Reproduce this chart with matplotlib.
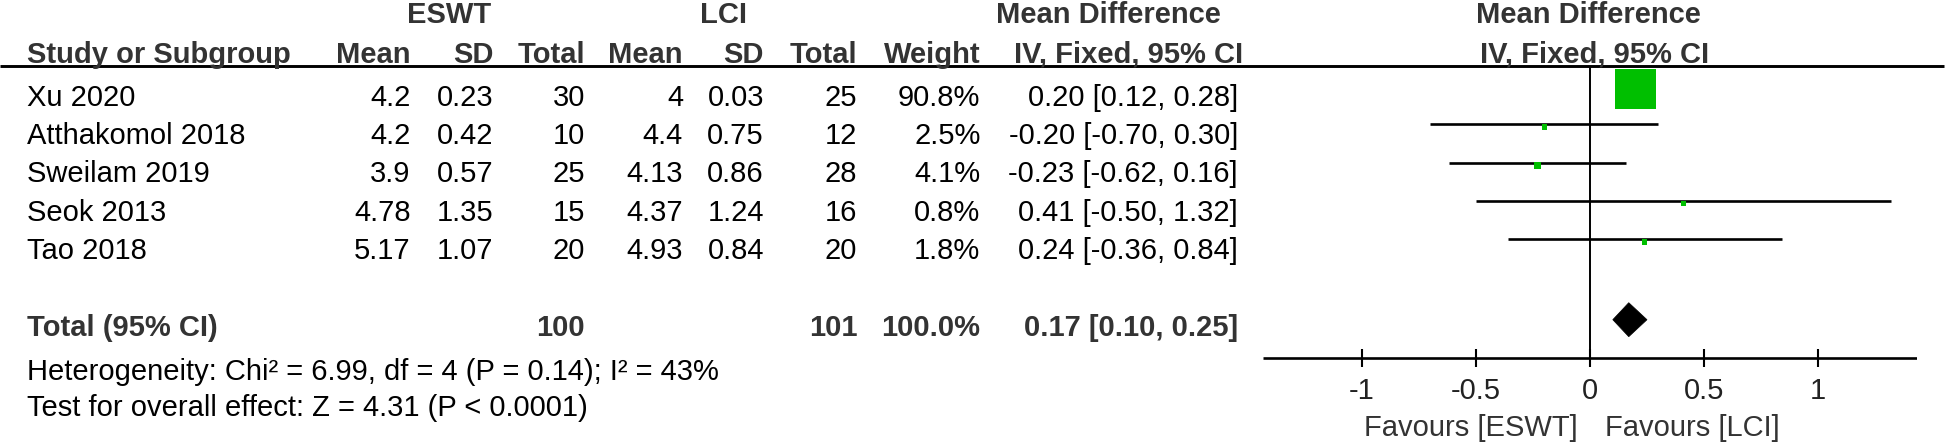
import matplotlib
matplotlib.use("Agg")
import matplotlib.pyplot as plt
from matplotlib.patches import Rectangle, Polygon

# ---------------- data ----------------
studies = ["Xu 2020", "Atthakomol 2018", "Sweilam 2019", "Seok 2013", "Tao 2018"]
eswt_mean = [4.2, 4.2, 3.9, 4.78, 5.17]
eswt_sd = [0.23, 0.42, 0.57, 1.35, 1.07]
eswt_n = [30, 10, 25, 15, 20]
lci_mean = [4, 4.4, 4.13, 4.37, 4.93]
lci_sd = [0.03, 0.75, 0.86, 1.24, 0.84]
lci_n = [25, 12, 28, 16, 20]
weights = [90.8, 2.5, 4.1, 0.8, 1.8]
md = [0.20, -0.20, -0.23, 0.41, 0.24]
ci_lo = [0.12, -0.70, -0.62, -0.50, -0.36]
ci_hi = [0.28, 0.30, 0.16, 1.32, 0.84]

total_eswt_n = 100
total_lci_n = 101
total_weight = 100.0
total_md = 0.17
total_lo = 0.10
total_hi = 0.25

heterogeneity = "Heterogeneity: Chi² = 6.99, df = 4 (P = 0.14); I² = 43%"
overall = "Test for overall effect: Z = 4.31 (P < 0.0001)"
xticks = [-1, -0.5, 0, 0.5, 1]
xtick_labels = ["-1", "-0.5", "0", "0.5", "1"]
favours_left = "Favours [ESWT]"
favours_right = "Favours [LCI]"

# ---------------- layout ----------------
W, H = 1946, 443
FONT = "Liberation Sans"
FS = 21
DARK = "#333333"
GREEN = "#00BF00"

fig = plt.figure(figsize=(W / 100, H / 100), dpi=100)
fig.patch.set_facecolor("white")
ax = fig.add_axes([0, 0, 1, 1])
ax.set_xlim(0, W)
ax.set_ylim(H, 0)
ax.axis("off")

def txt(x, y, s, ha="right", bold=False, color="black", size=FS):
    ax.text(x, y, s, ha=ha, va="baseline", fontsize=size, family=FONT,
            fontweight="bold" if bold else "normal", color=color)

# column right edges (pixels)
col_em, col_esd, col_en = 410.7, 493.3, 584.8
col_lm, col_lsd, col_ln = 683, 764, 857.3
col_w, col_ci = 980.4, 1238

# headers
txt(448.7, 23, "ESWT", ha="center", bold=True, color=DARK)
txt(724, 23, "LCI", ha="center", bold=True, color=DARK)
txt(1108, 23, "Mean Difference", ha="center", bold=True, color=DARK)
txt(1588.5, 23, "Mean Difference", ha="center", bold=True, color=DARK)

hy = 62.5
txt(27, hy, "Study or Subgroup", ha="left", bold=True, color=DARK)
for x, s in [(col_em, "Mean"), (col_esd, "SD"), (col_en, "Total"),
             (col_lm, "Mean"), (col_lsd, "SD"), (col_ln, "Total"),
             (col_w, "Weight")]:
    txt(x, hy, s, bold=True, color=DARK)
txt(1129, hy, "IV, Fixed, 95% CI", ha="center", bold=True, color=DARK)
txt(1595, hy, "IV, Fixed, 95% CI", ha="center", bold=True, color=DARK)

ax.plot([0, 1944], [65.5, 65.5], color="black", lw=2.1, solid_capstyle="butt")

def g(v):
    return f"{v:g}"

row0, dy = 106, 38.25
baselines = [row0 + i * dy for i in range(len(studies))]
for i, s in enumerate(studies):
    y = baselines[i]
    txt(27, y, s, ha="left")
    txt(col_em, y, g(eswt_mean[i]))
    txt(col_esd, y, g(eswt_sd[i]))
    txt(col_en, y, str(eswt_n[i]))
    txt(col_lm, y, g(lci_mean[i]))
    txt(col_lsd, y, g(lci_sd[i]))
    txt(col_ln, y, str(lci_n[i]))
    txt(col_w, y, f"{weights[i]:.1f}%")
    txt(col_ci, y, f"{md[i]:.2f} [{ci_lo[i]:.2f}, {ci_hi[i]:.2f}]")

ty = 336.5
txt(27, ty, "Total (95% CI)", ha="left", bold=True, color=DARK)
txt(col_en, ty, str(total_eswt_n), bold=True, color=DARK)
txt(col_ln, ty, str(total_lci_n), bold=True, color=DARK)
txt(col_w, ty, f"{total_weight:.1f}%", bold=True, color=DARK)
txt(col_ci, ty, f"{total_md:.2f} [{total_lo:.2f}, {total_hi:.2f}]", bold=True, color=DARK)

txt(27, 379.5, heterogeneity, ha="left")
txt(27, 416.5, overall, ha="left")

# ---------------- forest panel ----------------
x0px, x1px = 1263.3, 1916.7
xlim = 1.433
fa = fig.add_axes([x0px / W, 0, (x1px - x0px) / W, 1])
fa.set_xlim(-xlim, xlim)
fa.set_ylim(H, 0)
fa.axis("off")
fa.patch.set_alpha(0)
ppu = (x1px - x0px) / (2 * xlim)  # pixels per unit

axis_y = 358.3
fa.plot([-xlim, xlim], [axis_y, axis_y], color="black", lw=1.9, solid_capstyle="butt")
fa.plot([0, 0], [66, axis_y], color="black", lw=1.4, solid_capstyle="butt")
for t, lab in zip(xticks, xtick_labels):
    fa.plot([t, t], [349.3, 367.3], color="black", lw=1.5, solid_capstyle="butt")
    fa.text(t, 399.3, lab, ha="center", va="baseline", fontsize=FS, family=FONT, color="#222222")

fa.text(-12 / ppu, 436.5, favours_left, ha="right", va="baseline", fontsize=FS,
        family=FONT, color=DARK)
fa.text(15 / ppu, 436.5, favours_right, ha="left", va="baseline", fontsize=FS,
        family=FONT, color=DARK)

for i in range(len(studies)):
    ly = baselines[i] - 20
    fa.plot([ci_lo[i], ci_hi[i]], [ly, ly], color="black", lw=1.9, solid_capstyle="butt", zorder=2)
    side = 4.68 + 0.398 * weights[i]
    cy = ly + 3
    fa.add_patch(Rectangle((md[i] - side / 2 / ppu, cy - side / 2), side / ppu, side,
                           facecolor=GREEN, edgecolor="none", zorder=3))

dcy, dh = 319.7, 17
fa.add_patch(Polygon([(total_lo, dcy), (total_md, dcy - dh), (total_hi, dcy), (total_md, dcy + dh)],
                     closed=True, facecolor="black", edgecolor="black", lw=0.5, zorder=3))

fig.savefig("out.png", dpi=100)
